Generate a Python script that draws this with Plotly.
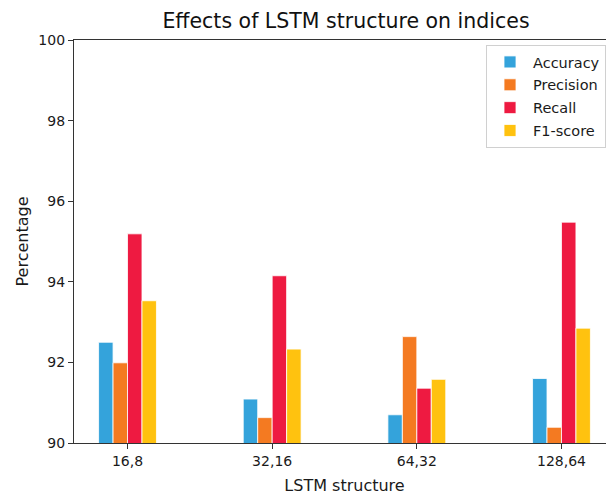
import plotly.graph_objects as go

categories = ["16,8", "32,16", "64,32", "128,64"]
accuracy = [92.50, 91.09, 90.70, 91.60]
precision = [91.99, 90.63, 92.64, 90.39]
recall = [95.19, 94.15, 91.36, 95.48]
f1_score = [93.53, 92.33, 91.58, 92.85]

series_names = ["Accuracy", "Precision", "Recall", "F1-score"]
series_values = [accuracy, precision, recall, f1_score]
colors = ["#34A3DB", "#F47A21", "#EE1A41", "#FFC20F"]

fig = go.Figure()
for name, vals, col in zip(series_names, series_values, colors):
    fig.add_trace(go.Bar(
        x=categories, y=vals, name=name, legendgroup=name,
        marker=dict(color=col, line=dict(color="white", width=0.8)),
    ))

# The reference image is cropped on the right: the axes box continues past the
# 606 px edge, so the figure is a little wider and the overflow is hidden.
FIG_W, VIEW_W = 632, 606
L, R, T, B = 74, 17, 40, 52
plot_w = FIG_W - L - R

font_family = "DejaVu Sans"
fig.update_layout(
    width=FIG_W, height=495,
    margin=dict(l=L, r=R, t=T, b=B, autoexpand=False),
    plot_bgcolor="white", paper_bgcolor="white",
    barmode="group", bargap=0.6, bargroupgap=0,
    font=dict(family=font_family, size=14, color="#1a1a1a"),
    title=dict(text="Effects of LSTM structure on indices", x=346 / FIG_W, xanchor="center",
               y=0.958, yanchor="middle", font=dict(size=20.5, color="#111")),
    xaxis=dict(
        type="category", range=[-0.37, 3.37], automargin=False,
        showline=True, linecolor="#333", linewidth=1.2, mirror=True,
        ticks="outside", ticklen=5, tickcolor="#333", tickwidth=1,
        title=dict(text="LSTM structure", font=dict(size=16), standoff=12),
        tickfont=dict(size=14), showgrid=False,
    ),
    yaxis=dict(
        range=[90, 100], dtick=2, tick0=90, automargin=False,
        showline=True, linecolor="#333", linewidth=1.2, mirror=True,
        ticks="outside", ticklen=5, tickcolor="#333", tickwidth=1,
        title=dict(text="Percentage", font=dict(size=16), standoff=5),
        tickfont=dict(size=14), showgrid=False, zeroline=False,
    ),
    legend=dict(
        x=(486 - L) / plot_w, y=(443 - 45) / 403, xanchor="left", yanchor="top",
        bordercolor="#d0d0d0", borderwidth=1, bgcolor="white",
        font=dict(size=14.5), tracegroupgap=1, itemwidth=36,
    ),
)

fig.write_html(
    "out.html", config={"displayModeBar": False},
    post_script=(
        "document.body.style.margin='0';"
        "document.body.style.overflow='hidden';"
        "document.documentElement.style.overflow='hidden';"
    ),
)
